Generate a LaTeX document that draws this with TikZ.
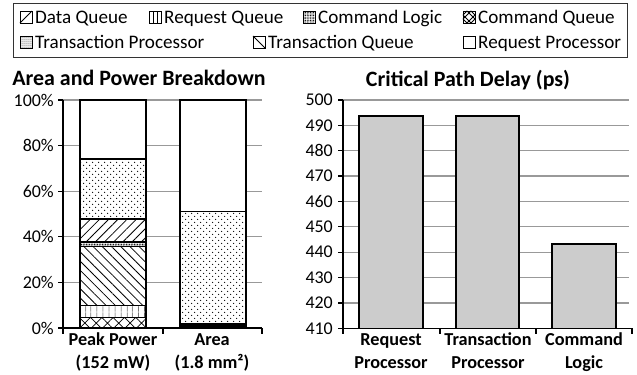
\documentclass[tikz,border=0pt]{standalone}
\usepackage{fontspec}
\setmainfont{Carlito}
\usetikzlibrary{patterns.meta}
\begin{document}
\begin{tikzpicture}[x=1bp,y=-1bp,
  gridline/.style={draw=black!40,line width=1.2bp},
  axisline/.style={draw=black,line width=1.2bp},
  barbox/.style={draw=black,line width=1.4bp},
  legframe/.style={draw=black!80,line width=0.9bp},
  legicon/.style={draw=black,line width=0.8bp},
  legtext/.style={anchor=base west,inner sep=0pt,font=\fontsize{19.2}{22}\selectfont},
  ticklab/.style={anchor=east,inner sep=0pt,font=\fontsize{18}{20}\selectfont},
  catlab/.style={anchor=base,align=center,inner sep=0pt,font=\bfseries\fontsize{18.3}{22.5}\selectfont},
  titlelab/.style={inner sep=0pt,font=\bfseries\fontsize{22}{24}\selectfont},
  pDQ/.style={pattern={Lines[angle=45,distance=6.5bp,line width=0.8bp]}},
  pTQ/.style={pattern={Lines[angle=-45,distance=6.5bp,line width=0.8bp]}},
  pRQ/.style={pattern={Lines[angle=90,distance=6bp,line width=0.8bp]}},
  pCQ/.style={pattern={Hatch[angle=45,distance=8bp,line width=0.7bp]}},
  pTPa/.style={pattern={Dots[distance=6bp,radius=0.75bp]}},
  pTPb/.style={pattern={Dots[distance=6bp,radius=0.75bp,xshift=3bp,yshift=3bp]}},
  pCL/.style={pattern={Dots[distance=1.6bp,radius=0.55bp]}},
  pTPicon/.style={pattern={Dots[distance=2bp,radius=0.5bp]}},
]
\useasboundingbox (0,0) rectangle (637,374);

% ---------- legend ----------
\draw[legframe] (13,3) rectangle (627,57);
% row 1
\draw[legicon] (20,11) rectangle (32,23);
\draw[legicon] (20,23) -- (32,11);
\node[legtext] (lDQ) at (35,23.2) {Data Queue};
\draw[legicon] (149,11) rectangle (161,23);
\draw[legicon] (153,11) -- (153,23) (157,11) -- (157,23);
\node[legtext] (lRQ) at (164,23.2) {Request Queue};
\draw[legicon,pCL] (303,11) rectangle (315,23);
\node[legtext] (lCL) at (318,23.2) {Command Logic};
\draw[legicon] (463,11) rectangle (475,23);
\draw[legicon] (463,15) -- (467,11) (471,11) -- (475,15) (475,19) -- (471,23) (467,23) -- (463,19);
\draw[legicon] (467,11) -- (475,19) (471,11) -- (463,19) (463,15) -- (471,23) (475,15) -- (467,23);
\node[legtext] (lCQ) at (478,23.2) {Command Queue};
% row 2
\draw[legicon,pTPicon] (20,36) rectangle (32,48);
\node[legtext] (lTP) at (35,48.2) {Transaction Processor};
\draw[legicon] (253,36) rectangle (265,48);
\draw[legicon] (253,36) -- (265,48);
\node[legtext] (lTQ) at (268,48.2) {Transaction Queue};
\draw[legicon] (463,36) rectangle (475,48);
\node[legtext] (lRP) at (478,48.2) {Request Processor};

% ---------- left chart ----------
\node[titlelab] (t1) at (139,78) {Area and Power Breakdown};
\foreach \p/\yy in {20/282.4,40/236.8,60/191.2,80/145.6,100/100}
  \draw[gridline] (63,\yy) -- (262,\yy);
\foreach \p/\yy in {0/328,20/282.4,40/236.8,60/191.2,80/145.6,100/100}{
  \draw[axisline] (58,\yy) -- (63,\yy);
  \node[ticklab] at (54,\yy) {\p\%};
}
% power bar
\fill[white] (80,328) rectangle (146,100);
\path[pCQ] (80,328) rectangle (146,317.3);
\path[pRQ] (80,317.3) rectangle (146,305.7);
\path[pTQ] (80,305.7) rectangle (146,246.6);
\path[pCL] (80,246.6) rectangle (146,241.8);
\path[pDQ] (80,241.8) rectangle (146,219);
\path[pTPa] (80,219) rectangle (146,159);
\path[pTPb] (80,219) rectangle (146,159);
\foreach \yy in {317.3,305.7,246.6,241.8,219,159}
  \draw[barbox] (80,\yy) -- (146,\yy);
\draw[barbox] (80,328) rectangle (146,100);
% area bar
\fill[white] (180,328) rectangle (246,100);
\path[pTPa] (180,323) rectangle (246,211.7);
\path[pTPb] (180,323) rectangle (246,211.7);
\fill[black] (180,328) rectangle (246,323);
\draw[barbox] (180,211.7) -- (246,211.7);
\draw[barbox] (180,328) rectangle (246,100);
% axes
\draw[axisline] (63,100) -- (63,328) -- (262,328);
\foreach \xx in {63,163,262} \draw[axisline] (\xx,328) -- (\xx,334);
\node[catlab] (c1) at (113,368) {Peak Power\\(152 mW)};
\node[catlab] (c2) at (212,368) {Area\\(1.8 mm²)};

% ---------- right chart ----------
\node[titlelab] (t2) at (468,80) {Critical Path Delay (ps)};
\foreach \v in {420,430,...,500}
  \draw[gridline] (343,{328.3-2.537*(\v-410)}) -- (629,{328.3-2.537*(\v-410)});
\foreach \v in {410,420,...,500}{
  \draw[axisline] (338,{328.3-2.537*(\v-410)}) -- (343,{328.3-2.537*(\v-410)});
  \node[ticklab] at (333,{328.3-2.537*(\v-410)}) {\v};
}
\draw[barbox,fill=black!20] (359,328.3) rectangle (423,116) coordinate (bRP);
\draw[barbox,fill=black!20] (456,328.3) rectangle (519,116) coordinate (bTP);
\draw[barbox,fill=black!20] (552,328.3) rectangle (616,244) coordinate (bCL);
\draw[axisline] (343,100) -- (343,328.3) -- (632,328.3);
\foreach \xx in {343,440,536,632} \draw[axisline] (\xx,328.3) -- (\xx,334);
\node[catlab] (c3) at (391,368) {Request\\Processor};
\node[catlab] (c4) at (488,368) {Transaction\\Processor};
\node[catlab] (c5) at (584,368) {Command\\Logic};
\end{tikzpicture}
\end{document}
